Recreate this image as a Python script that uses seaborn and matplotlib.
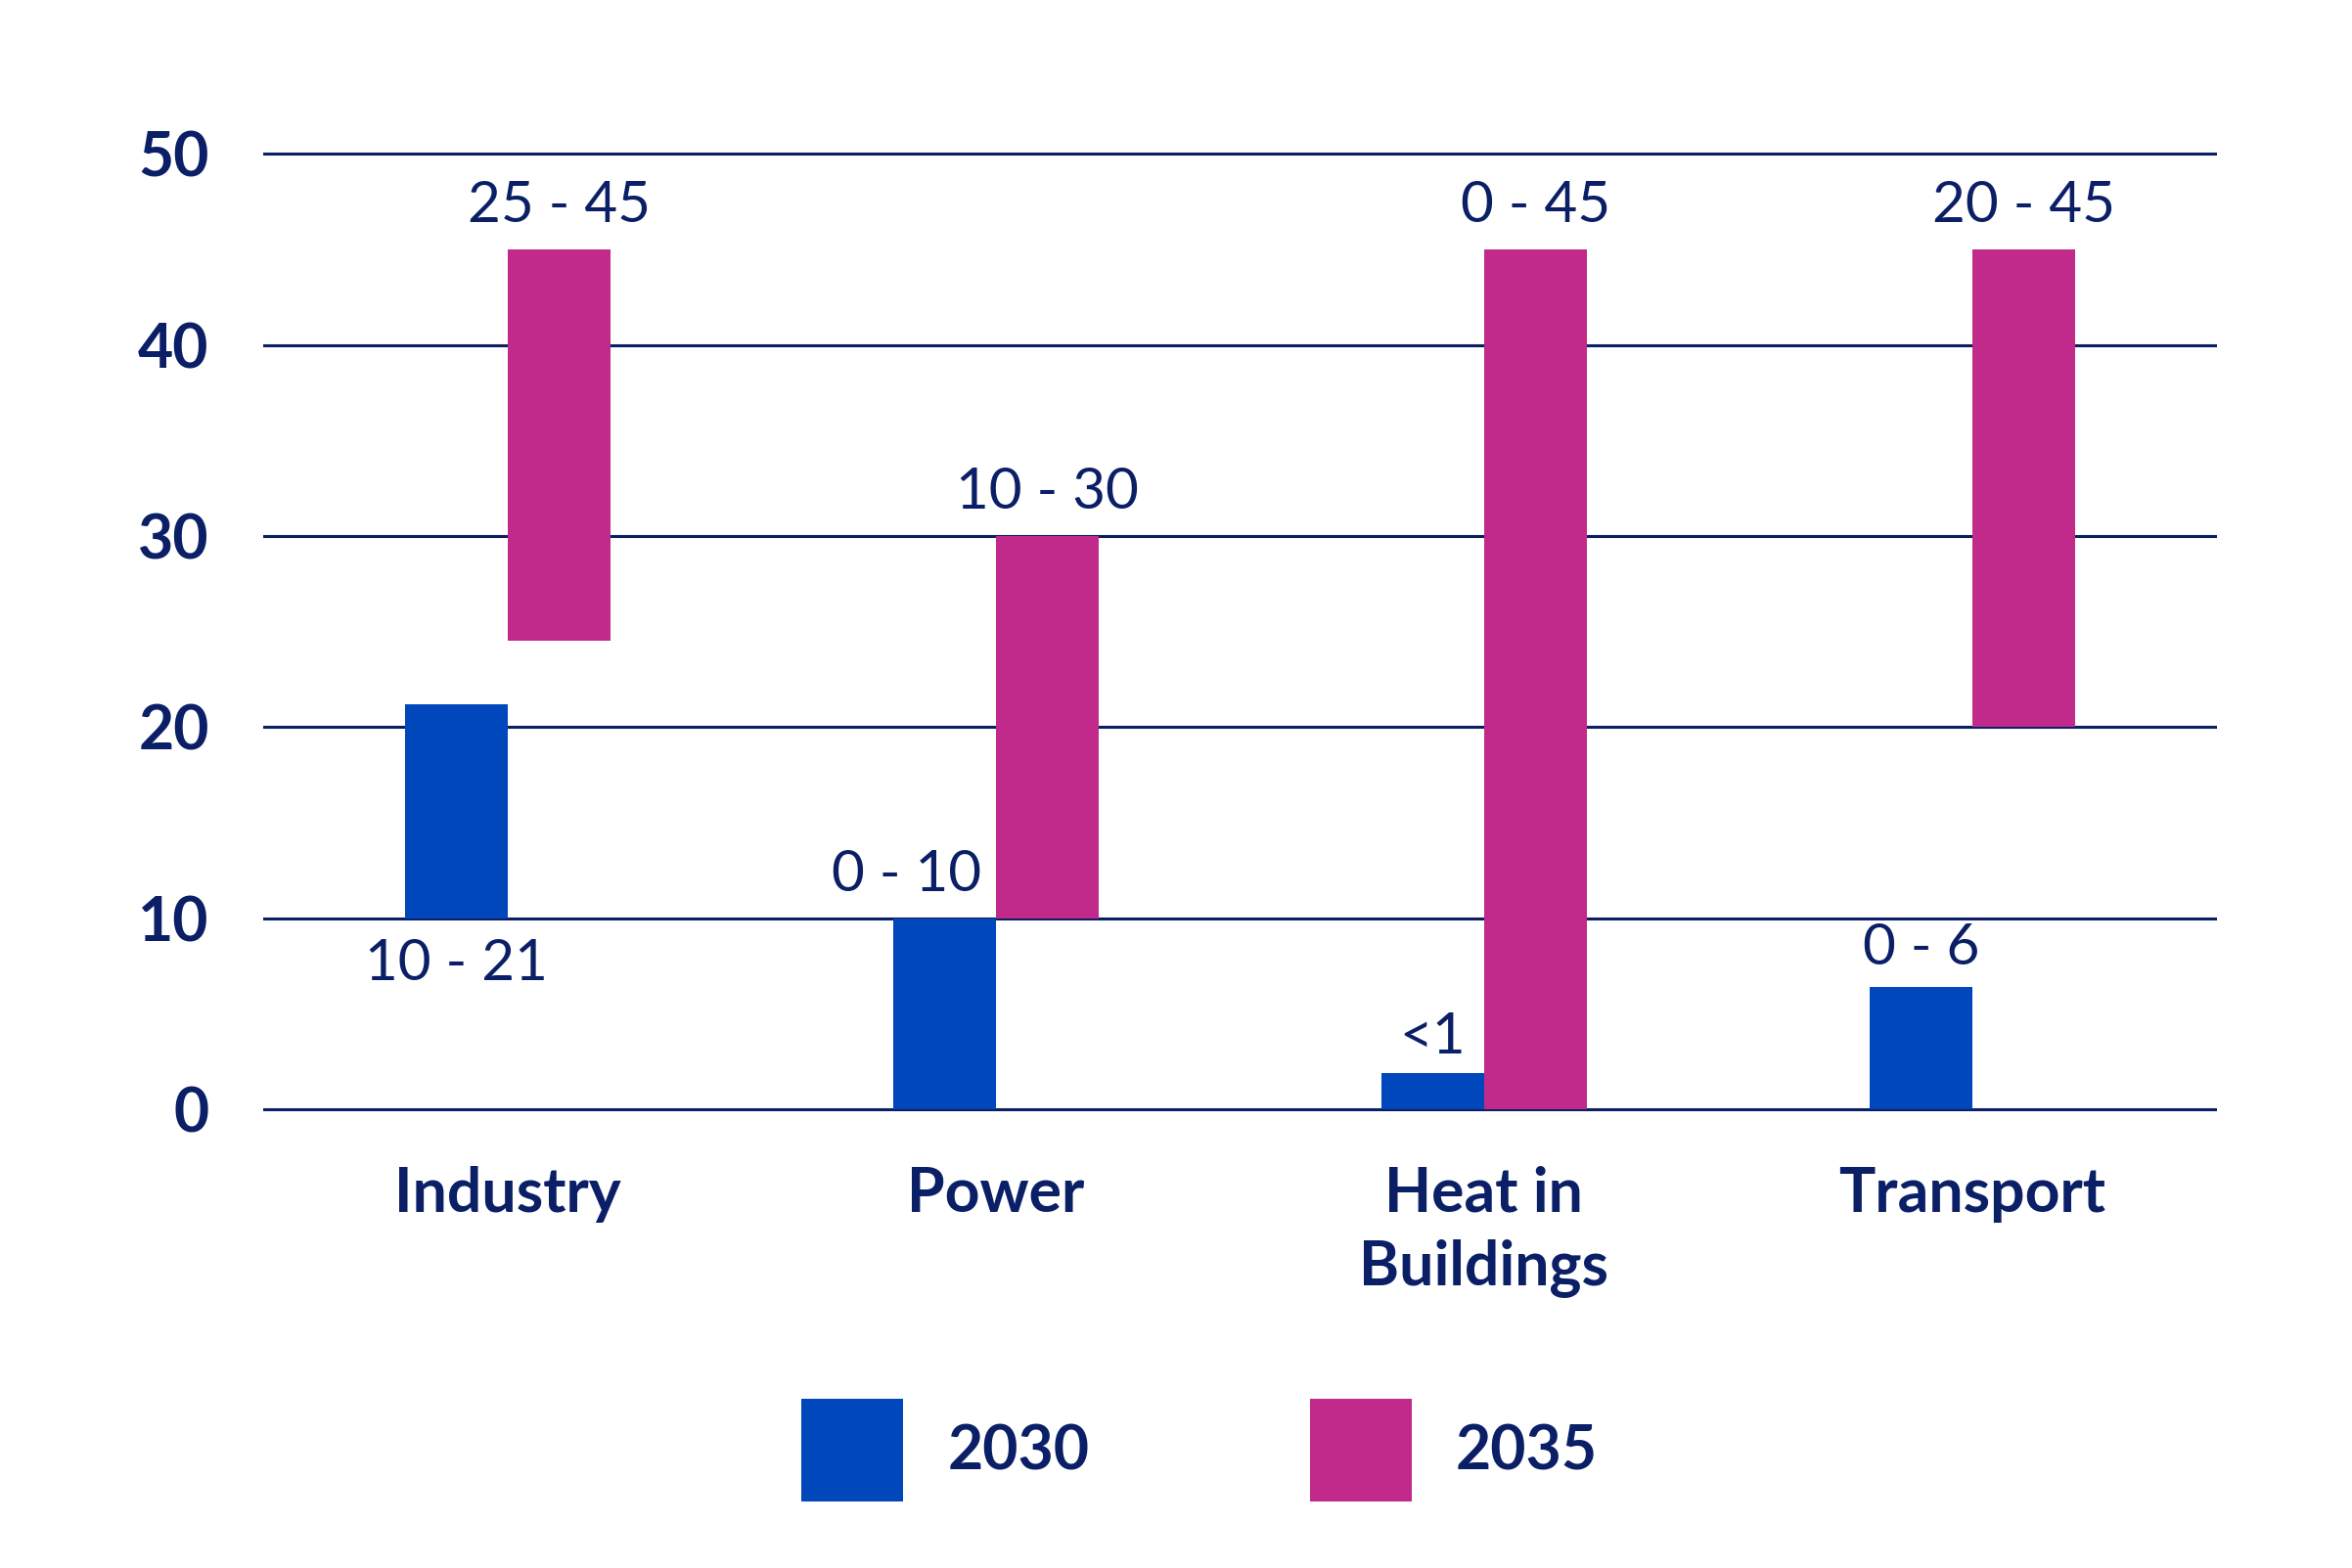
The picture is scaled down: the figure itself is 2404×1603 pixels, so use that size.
import pandas as pd
import matplotlib.pyplot as plt
import seaborn as sns

sectors = ['Industry', 'Power', 'Heat in\nBuildings', 'Transport']
years = ['2030', '2035']
low_2030 = [10, 0, 0, 0]
high_2030 = [21.2, 10, 1.9, 6.4]
low_2035 = [24.5, 10, 0, 20]
high_2035 = [45, 30, 45, 45]
labels_2030 = ['10 - 21', '0 - 10', '<1', '0 - 6']
labels_2035 = ['25 - 45', '10 - 30', '0 - 45', '20 - 45']

navy = '#0B1F66'
palette = {'2030': '#0047BB', '2035': '#C1298B'}

df = pd.DataFrame({
    'sector': sectors * 2,
    'year': [years[0]] * len(sectors) + [years[1]] * len(sectors),
    'low': low_2030 + low_2035,
    'high': high_2030 + high_2035,
    'label': labels_2030 + labels_2035,
})
df['span'] = df['high'] - df['low']

sns.set_theme(style='white')
plt.rcParams['font.family'] = ['Lato', 'DejaVu Sans']

fig = plt.figure(figsize=(12.02, 8.015), dpi=200)
ax = fig.add_axes([0.112, 0.2896, 0.8304, 0.6154])

sns.barplot(data=df, x='sector', y='span', hue='year', order=sectors,
            hue_order=years, palette=palette, width=0.42, saturation=1,
            linewidth=0, ax=ax)

# floating bars: move each bar to start at its low value
label_below = {('Industry', '2030')}
label_dx = {('Power', '2030'): -14}
label_dy = {('Heat in\nBuildings', '2030'): 13, ('Transport', '2030'): 14}
for container, yr in zip(ax.containers, years):
    sub = df[df['year'] == yr]
    for bar, (_, row) in zip(container, sub.iterrows()):
        bar.set_y(row['low'])
        xc = bar.get_x() + bar.get_width() / 2
        key = (row['sector'], yr)
        dx = label_dx.get(key, 0)
        if key in label_below:
            ax.annotate(row['label'], (xc, row['low']), xytext=(dx, -17),
                        textcoords='offset points', ha='center', va='center',
                        fontsize=21, color=navy)
        else:
            ax.annotate(row['label'], (xc, row['high']),
                        xytext=(dx, label_dy.get(key, 16)),
                        textcoords='offset points', ha='center', va='center',
                        fontsize=21, color=navy)

ax.set_ylim(-0.25, 50.25)
ax.set_xlim(-0.5, 3.5)
ax.set_yticks(range(0, 51, 10))
ax.yaxis.grid(True, color=navy, linewidth=1.1)
ax.xaxis.grid(False)
ax.set_axisbelow(True)
sns.despine(ax=ax, left=True, bottom=True)
ax.tick_params(axis='both', length=0, labelsize=22.5, colors=navy)
ax.tick_params(axis='y', pad=20)
ax.tick_params(axis='x', pad=19)
for t in ax.get_xticklabels() + ax.get_yticklabels():
    t.set_fontweight('bold')
    t.set_color(navy)
for t in ax.get_xticklabels():
    t.set_linespacing(1.35)
ax.set_xlabel('')
ax.set_ylabel('')

handles, labels = ax.get_legend_handles_labels()
ax.get_legend().remove()
fig.legend(handles, labels, loc='center', bbox_to_anchor=(0.510, 0.075),
           ncol=2, frameon=False, handlelength=1.67, handleheight=2.2,
           handletextpad=0.72, columnspacing=3.6,
           prop={'size': 22.5, 'weight': 'bold'}, labelcolor=navy)

plt.savefig('out.png', dpi=200)
plt.close()
